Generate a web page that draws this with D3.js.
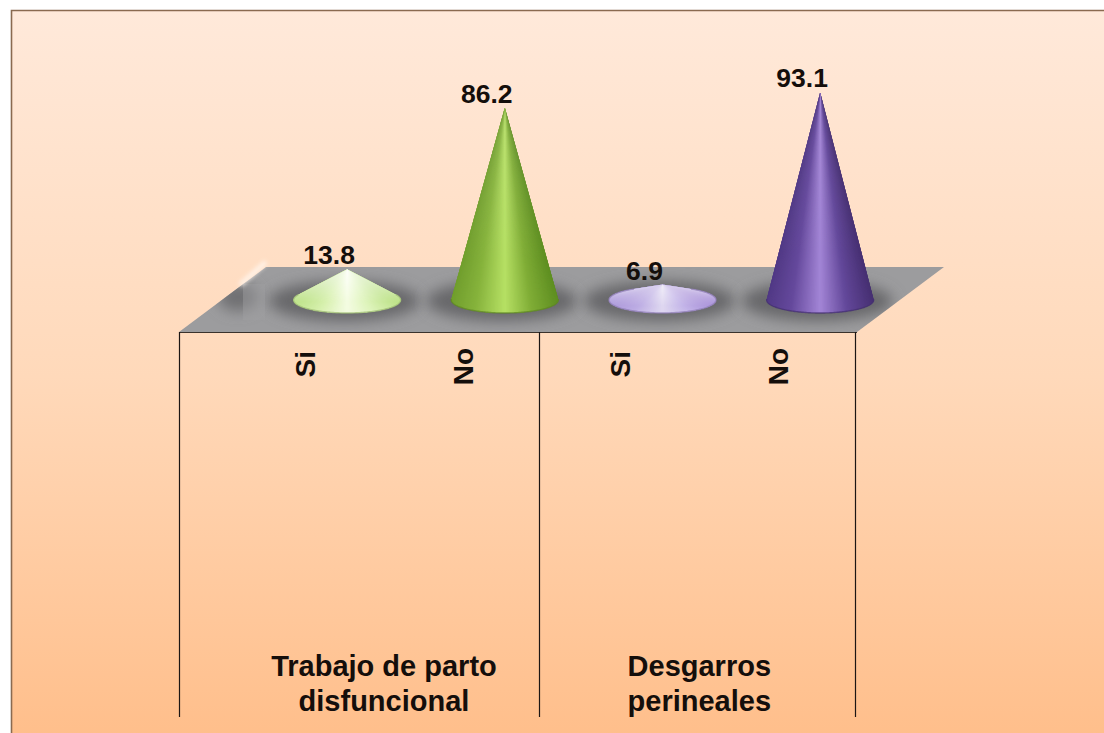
<!DOCTYPE html>
<html>
<head>
<meta charset="utf-8">
<script src="https://cdnjs.cloudflare.com/ajax/libs/d3/7.8.5/d3.min.js"></script>
<style>
  html, body { margin: 0; padding: 0; background: #fff; }
  svg { display: block; }
  text { font-family: "Liberation Sans", Arial, sans-serif; font-weight: bold; fill: #140e0b; }
</style>
</head>
<body>
<svg id="chart" width="1104" height="733"></svg>
<script>
// Chart content
const categories = ["Si", "No", "Si", "No"];
const values = [13.8, 86.2, 6.9, 93.1];
const groupLabels = [["Trabajo de parto", "disfuncional"], ["Desgarros", "perineales"]];
const groupCentres = [0.5, 2.5];
const groupDividers = [-0.8, 1.483, 3.49];
const shadeStops = [-1, -0.55, 0, 0.5, 1];
const coneShades = [
  ["#bfe38c", "#d6f0ac", "#f4fce2", "#dcf3b8", "#bde288"],
  ["#729f2e", "#86b33c", "#b6e064", "#80ad36", "#5f8f22"],
  ["#ac98da", "#bdade4", "#dfd8f0", "#c2b3e8", "#a890d8"],
  ["#523a86", "#65499c", "#a385d6", "#63489a", "#473073"]
];
const apexGlow = [0.85, 0.1, 0.6, 0.05];

const width = 1104, height = 733;
const svg = d3.select("#chart");
const defs = svg.append("defs");

const x = d3.scaleLinear().domain([-0.8, 3.5]).range([179, 857]);
const y = d3.scaleLinear().domain([0, 100]).range([0, 223]);

// Plot geometry of the 3D floor
const floorFront = 332, floorBack = 267, depthShift = 87;
const baseY = 300, depthOffset = 42, coneRx = 53.5, coneRy = 13;

// Panel background
const bg = defs.append("linearGradient").attr("id", "panelFill")
  .attr("x1", 0).attr("y1", 0).attr("x2", 0).attr("y2", 1);
bg.append("stop").attr("offset", 0).attr("stop-color", "#ffe9da");
bg.append("stop").attr("offset", 0.5).attr("stop-color", "#ffd9ba");
bg.append("stop").attr("offset", 1).attr("stop-color", "#ffbe8a");

svg.append("rect").attr("width", width).attr("height", height).attr("fill", "#fff");
svg.append("rect").attr("x", 11).attr("y", 10)
  .attr("width", width).attr("height", height)
  .attr("fill", "url(#panelFill)");
svg.append("path").attr("d", d3.line()([[11.5, height], [11.5, 10.5], [width, 10.5]]))
  .attr("fill", "none").attr("stroke", "#8a6a50").attr("stroke-width", 1.6);

// Blur filters for the contact shadows
[["soft", 7], ["softer", 2]].forEach(([id, dev]) => {
  defs.append("filter").attr("id", id)
    .attr("x", "-40%").attr("y", "-60%").attr("width", "180%").attr("height", "220%")
    .append("feGaussianBlur").attr("stdDeviation", dev);
});

// Floor
const floorPath = d3.path();
floorPath.moveTo(x.range()[0], floorFront);
floorPath.lineTo(x.range()[1], floorFront);
floorPath.lineTo(x.range()[1] + depthShift, floorBack);
floorPath.lineTo(x.range()[0] + depthShift, floorBack);
floorPath.closePath();
defs.append("clipPath").attr("id", "floorClip").append("path").attr("d", floorPath.toString());

svg.append("path").attr("d", floorPath.toString()).attr("fill", "#9c9c9e");

const shadows = svg.append("g").attr("clip-path", "url(#floorClip)");
shadows.selectAll("ellipse.shadow").data(values).join("ellipse")
  .attr("class", "shadow")
  .attr("cx", (d, i) => x(i) + depthOffset - 3)
  .attr("cy", baseY + 1)
  .attr("rx", coneRx + 22)
  .attr("ry", coneRy + 7)
  .attr("fill", "#68686a")
  .attr("filter", "url(#soft)");

// Empty leading slot on the floor: a faint shadow and highlight
const leading = svg.append("g");
leading.append("ellipse").attr("clip-path", "url(#floorClip)")
  .attr("cx", 238).attr("cy", 297).attr("rx", 20).attr("ry", 14)
  .attr("fill", "#707072").attr("filter", "url(#soft)");
leading.append("rect").attr("x", 243).attr("y", 284).attr("width", 22).attr("height", 36)
  .attr("fill", "#a0a0a2").attr("opacity", 0.45);
leading.append("line").attr("x1", 240).attr("y1", 285).attr("x2", 266).attr("y2", 262)
  .attr("stroke", "#fff8f2").attr("stroke-width", 5).attr("opacity", 0.8)
  .attr("filter", "url(#softer)");

// Cones: each is a fan of overlapping wedges running from the apex to the base
// rim, shaded by how far round the base the wedge sits.
const cones = svg.append("g");
values.forEach((value, i) => {
  const cx = x(i) + depthOffset;
  const h = y(value);
  const apexY = baseY - h;
  const shade = d3.scaleLinear().domain(shadeStops).range(coneShades[i]).interpolate(d3.interpolateRgb);
  const tangent = Math.asin(-coneRy / h);
  const steps = 120;
  const angles = d3.range(0, steps + 1).map(k => tangent + (Math.PI - 2 * tangent) * k / steps);
  const rim = t => [cx + coneRx * Math.cos(t), baseY + coneRy * Math.sin(t)];
  const g = cones.append("g");

  // Each wedge reaches on under its neighbour so no seams show
  g.selectAll("path.wedge").data(d3.range(0, steps)).join("path")
    .attr("class", "wedge")
    .attr("d", k => {
      const arc = angles.slice(k, Math.min(k + 5, steps + 1)).map(rim);
      return d3.line()([[cx, apexY], ...arc]) + "Z";
    })
    .attr("fill", k => shade(Math.cos((angles[k] + angles[k + 1]) / 2)));

  // Whitening toward the apex
  const glowId = `glow${i}`;
  const glow = defs.append("linearGradient").attr("id", glowId)
    .attr("x1", 0).attr("y1", 0).attr("x2", 0).attr("y2", 1);
  glow.append("stop").attr("offset", 0).attr("stop-color", "#fff").attr("stop-opacity", apexGlow[i]);
  glow.append("stop").attr("offset", 0.75).attr("stop-color", "#fff").attr("stop-opacity", 0);
  g.append("path")
    .attr("d", d3.line()([[cx, apexY], ...angles.map(rim)]) + "Z")
    .attr("fill", `url(#${glowId})`);

  // Darker rim along the front of the base
  g.append("path").attr("d", d3.line()(angles.map(rim))).attr("fill", "none")
    .attr("stroke", d3.color(coneShades[i][0]).darker(0.5))
    .attr("stroke-width", 1.4).attr("opacity", 0.75);
});

// Front edge of the floor and the group dividers
svg.append("line").attr("x1", x.range()[0]).attr("x2", x.range()[1])
  .attr("y1", floorFront + 0.5).attr("y2", floorFront + 0.5)
  .attr("stroke", "#3a322c").attr("stroke-width", 1.2);
svg.selectAll("line.divider").data(groupDividers).join("line")
  .attr("class", "divider")
  .attr("x1", d => Math.round(x(d)) + 0.5).attr("x2", d => Math.round(x(d)) + 0.5)
  .attr("y1", floorFront).attr("y2", 717)
  .attr("stroke", "#1c1614").attr("stroke-width", 1.2);

// Value labels
svg.selectAll("text.value").data(values).join("text")
  .attr("class", "value")
  .attr("x", (d, i) => x(i) + depthOffset - 18)
  .attr("y", d => baseY - y(d) - 5)
  .attr("text-anchor", "middle")
  .attr("font-size", 26.5)
  .text(d => d.toFixed(1));

// Category labels, rotated
svg.selectAll("text.category").data(categories).join("text")
  .attr("class", "category")
  .attr("transform", (d, i) => `translate(${x(i) + 10},${i % 2 ? 348 : 351}) rotate(-90)`)
  .attr("text-anchor", "end")
  .attr("font-size", 28)
  .text(d => d);

// Group labels
groupLabels.forEach((lines, gi) => {
  lines.forEach((line, li) => {
    svg.append("text").attr("class", "group")
      .attr("x", x(groupCentres[gi]))
      .attr("y", 676 + li * 35)
      .attr("text-anchor", "middle")
      .attr("font-size", 29)
      .text(line);
  });
});
</script>
</body>
</html>
